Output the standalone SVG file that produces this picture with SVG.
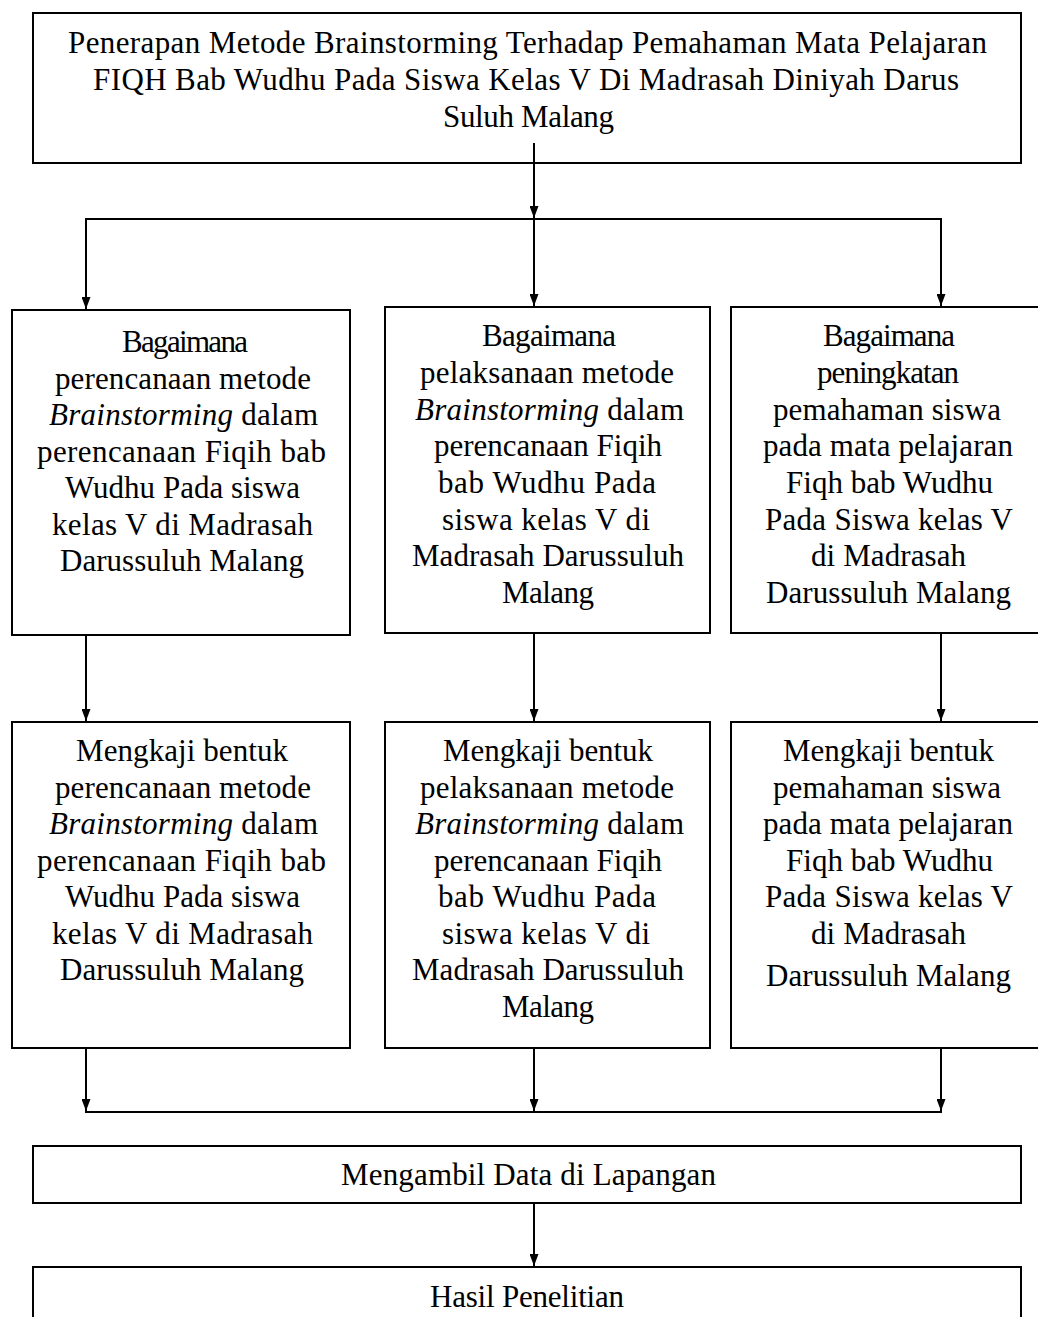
<svg xmlns="http://www.w3.org/2000/svg" width="1038" height="1317" viewBox="0 0 1038 1317">
<style>
.box{fill:#fff;stroke:#000;stroke-width:2}
.t{font-family:"Liberation Serif","Times New Roman",serif;font-size:31px;fill:#000}
.i{font-style:italic}
.c{fill:none;stroke:#000;stroke-width:2}
</style>
<defs>
<marker id="ah" viewBox="0 0 12 9" refX="12" refY="4.5" markerWidth="12" markerHeight="9" markerUnits="userSpaceOnUse" orient="auto">
<path d="M0,0 L12,4.5 L0,9 z" fill="#000"/>
</marker>
</defs>
<rect width="1038" height="1317" fill="#fff"/>

<g id="title">
<rect class="box" x="33" y="13" width="988" height="150"/>
<text class="t" x="68" y="53" textLength="919" lengthAdjust="spacing">Penerapan Metode Brainstorming Terhadap Pemahaman Mata Pelajaran</text>
<text class="t" x="93" y="90" textLength="866" lengthAdjust="spacing">FIQH Bab Wudhu Pada Siswa Kelas V Di Madrasah Diniyah Darus</text>
<text class="t" x="443" y="127" textLength="171" lengthAdjust="spacing">Suluh Malang</text>
</g>

<g id="q1">
<rect class="box" x="12" y="310" width="338" height="325"/>
<text class="t" x="122" y="352" textLength="126" lengthAdjust="spacing">Bagaimana</text>
<text class="t" x="55" y="388.5" textLength="256" lengthAdjust="spacing">perencanaan metode</text>
<text class="t" x="49" y="425" textLength="269" lengthAdjust="spacing"><tspan class="i">Brainstorming</tspan> dalam</text>
<text class="t" x="37" y="461.5" textLength="289" lengthAdjust="spacing">perencanaan Fiqih bab</text>
<text class="t" x="65" y="498" textLength="235" lengthAdjust="spacing">Wudhu Pada siswa</text>
<text class="t" x="52" y="534.5" textLength="261" lengthAdjust="spacing">kelas V di Madrasah</text>
<text class="t" x="60" y="571" textLength="244" lengthAdjust="spacing">Darussuluh Malang</text>
</g>

<g id="q2">
<rect class="box" x="385" y="307" width="325" height="326"/>
<text class="t" x="482" y="346" textLength="134" lengthAdjust="spacing">Bagaimana</text>
<text class="t" x="420" y="383" textLength="254" lengthAdjust="spacing">pelaksanaan metode</text>
<text class="t" x="415" y="419.5" textLength="269" lengthAdjust="spacing"><tspan class="i">Brainstorming</tspan> dalam</text>
<text class="t" x="434" y="456" textLength="228" lengthAdjust="spacing">perencanaan Fiqih</text>
<text class="t" x="438" y="493" textLength="218" lengthAdjust="spacing">bab Wudhu Pada</text>
<text class="t" x="442" y="529.5" textLength="208" lengthAdjust="spacing">siswa kelas V di</text>
<text class="t" x="412" y="566" textLength="272" lengthAdjust="spacing">Madrasah Darussuluh</text>
<text class="t" x="502" y="603" textLength="92" lengthAdjust="spacing">Malang</text>
</g>

<g id="q3">
<rect class="box" x="731" y="307" width="320" height="326"/>
<text class="t" x="823" y="346" textLength="132" lengthAdjust="spacing">Bagaimana</text>
<text class="t" x="817" y="383" textLength="142" lengthAdjust="spacing">peningkatan</text>
<text class="t" x="773" y="419.5" textLength="228" lengthAdjust="spacing">pemahaman siswa</text>
<text class="t" x="763" y="456" textLength="250" lengthAdjust="spacing">pada mata pelajaran</text>
<text class="t" x="786" y="493" textLength="207" lengthAdjust="spacing">Fiqh bab Wudhu</text>
<text class="t" x="765" y="529.5" textLength="248" lengthAdjust="spacing">Pada Siswa kelas V</text>
<text class="t" x="811" y="566" textLength="155" lengthAdjust="spacing">di Madrasah</text>
<text class="t" x="766" y="603" textLength="245" lengthAdjust="spacing">Darussuluh Malang</text>
</g>

<g id="k1">
<rect class="box" x="12" y="722" width="338" height="326"/>
<text class="t" x="76" y="761" textLength="212" lengthAdjust="spacing">Mengkaji bentuk</text>
<text class="t" x="55" y="797.5" textLength="256" lengthAdjust="spacing">perencanaan metode</text>
<text class="t" x="49" y="834" textLength="269" lengthAdjust="spacing"><tspan class="i">Brainstorming</tspan> dalam</text>
<text class="t" x="37" y="870.5" textLength="289" lengthAdjust="spacing">perencanaan Fiqih bab</text>
<text class="t" x="65" y="907" textLength="235" lengthAdjust="spacing">Wudhu Pada siswa</text>
<text class="t" x="52" y="943.5" textLength="261" lengthAdjust="spacing">kelas V di Madrasah</text>
<text class="t" x="60" y="980" textLength="244" lengthAdjust="spacing">Darussuluh Malang</text>
</g>

<g id="k2">
<rect class="box" x="385" y="722" width="325" height="326"/>
<text class="t" x="443" y="761" textLength="210" lengthAdjust="spacing">Mengkaji bentuk</text>
<text class="t" x="420" y="797.5" textLength="254" lengthAdjust="spacing">pelaksanaan metode</text>
<text class="t" x="415" y="834" textLength="269" lengthAdjust="spacing"><tspan class="i">Brainstorming</tspan> dalam</text>
<text class="t" x="434" y="870.5" textLength="228" lengthAdjust="spacing">perencanaan Fiqih</text>
<text class="t" x="438" y="907" textLength="218" lengthAdjust="spacing">bab Wudhu Pada</text>
<text class="t" x="442" y="943.5" textLength="208" lengthAdjust="spacing">siswa kelas V di</text>
<text class="t" x="412" y="980" textLength="272" lengthAdjust="spacing">Madrasah Darussuluh</text>
<text class="t" x="502" y="1017" textLength="92" lengthAdjust="spacing">Malang</text>
</g>

<g id="k3">
<rect class="box" x="731" y="722" width="320" height="326"/>
<text class="t" x="783" y="761" textLength="211" lengthAdjust="spacing">Mengkaji bentuk</text>
<text class="t" x="773" y="797.5" textLength="228" lengthAdjust="spacing">pemahaman siswa</text>
<text class="t" x="763" y="834" textLength="250" lengthAdjust="spacing">pada mata pelajaran</text>
<text class="t" x="786" y="870.5" textLength="207" lengthAdjust="spacing">Fiqh bab Wudhu</text>
<text class="t" x="765" y="907" textLength="248" lengthAdjust="spacing">Pada Siswa kelas V</text>
<text class="t" x="811" y="943.5" textLength="155" lengthAdjust="spacing">di Madrasah</text>
<text class="t" x="766" y="986" textLength="245" lengthAdjust="spacing">Darussuluh Malang</text>
</g>

<g id="data">
<rect class="box" x="33" y="1146" width="988" height="57"/>
<text class="t" x="341" y="1185" textLength="375" lengthAdjust="spacing">Mengambil Data di Lapangan</text>
</g>

<g id="hasil">
<rect class="box" x="33" y="1267" width="988" height="70"/>
<text class="t" x="430" y="1307" textLength="194" lengthAdjust="spacing">Hasil Penelitian</text>
</g>

<g id="connectors">
<line class="c" x1="534" y1="143" x2="534" y2="218" marker-end="url(#ah)"/>
<line class="c" x1="85" y1="219" x2="942" y2="219"/>
<line class="c" x1="86" y1="220" x2="86" y2="309" marker-end="url(#ah)"/>
<line class="c" x1="534" y1="220" x2="534" y2="306" marker-end="url(#ah)"/>
<line class="c" x1="941" y1="220" x2="941" y2="306" marker-end="url(#ah)"/>
<line class="c" x1="86" y1="635" x2="86" y2="721" marker-end="url(#ah)"/>
<line class="c" x1="534" y1="633" x2="534" y2="721" marker-end="url(#ah)"/>
<line class="c" x1="941" y1="633" x2="941" y2="721" marker-end="url(#ah)"/>
<line class="c" x1="86" y1="1048" x2="86" y2="1111" marker-end="url(#ah)"/>
<line class="c" x1="534" y1="1048" x2="534" y2="1111" marker-end="url(#ah)"/>
<line class="c" x1="941" y1="1048" x2="941" y2="1111" marker-end="url(#ah)"/>
<line class="c" x1="85" y1="1112" x2="942" y2="1112"/>
<line class="c" x1="534" y1="1203" x2="534" y2="1266" marker-end="url(#ah)"/>
</g>
</svg>
